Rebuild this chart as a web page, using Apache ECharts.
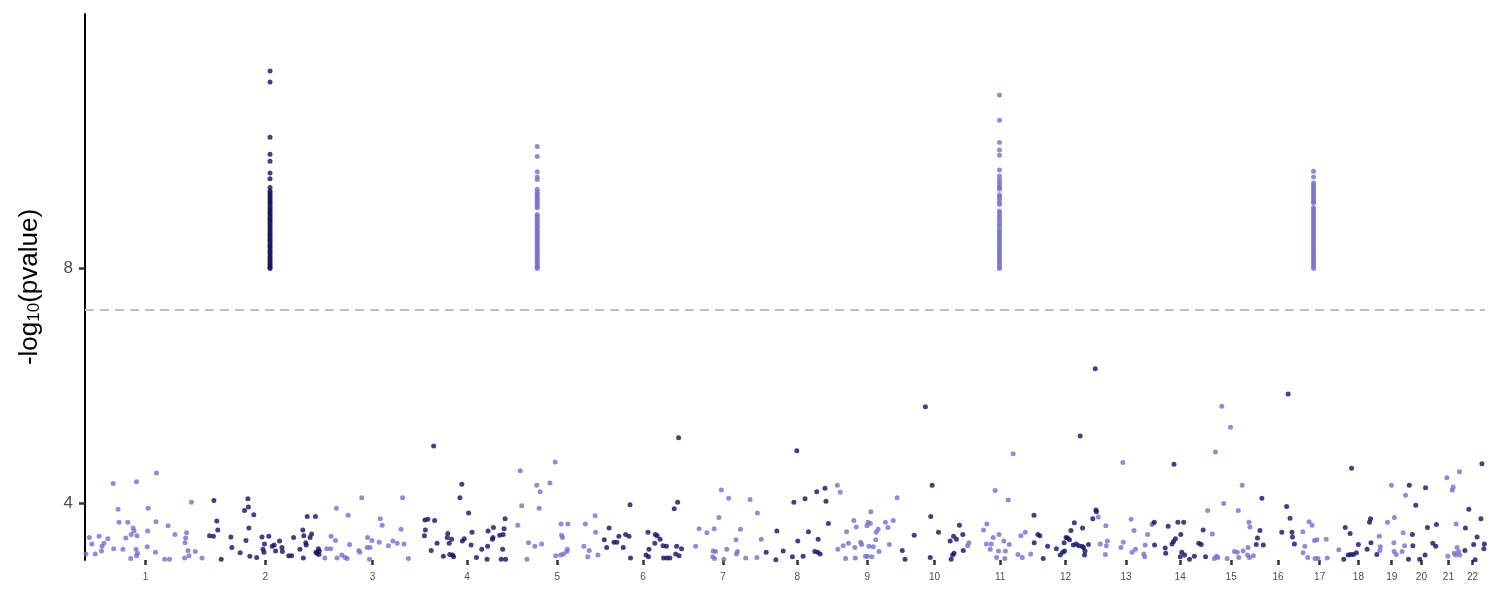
<!DOCTYPE html>
<html><head><meta charset="utf-8">
<script src="https://cdn.jsdelivr.net/npm/echarts@6/dist/echarts.min.js"></script>
<style>html,body{margin:0;padding:0;background:#fff}#c{width:1500px;height:600px}</style>
</head><body><div id="c"></div>
<script>
// chromosome names and lengths (Mb, hg19)
const chromNames = ['1','2','3','4','5','6','7','8','9','10','11','12','13','14','15','16','17','18','19','20','21','22'];
const chromLengths = [249.25,243.2,198.0,191.15,180.9,171.1,159.1,146.4,141.2,135.5,135.0,133.85,115.2,107.35,102.5,90.35,81.2,78.1,59.1,63.0,48.1,51.3];
const yTicks = [4, 8];
const gwThreshold = 7.3;

// [position within chromosome (Mb), -log10(p)]
const chr1 = [[2,3.13],[9,3.41],[14,3.30],[21,3.13],[29,3.43],[34,3.18],[35,3.26],[39,3.31],[47,3.39],[58,4.33],[59,3.22],[68,3.89],[70,3.67],[78,3.21],[84,3.40],[88,3.67],[94,3.05],[95,3.46],[99,3.57],[101,3.52],[106,4.36],[107,3.44],[105,3.21],[106,3.10],[108,3.14],[130,3.91],[129,3.52],[128,3.25],[145,3.16],[147,4.51],[146,3.68],[164,3.04],[171,3.61],[174,3.04],[185,3.46],[205,3.06],[206,3.32],[207,3.40],[209,3.49],[212,3.19],[214,3.10],[219,4.01],[227,3.17],[241,3.06]];
const chr2 = [[7,3.44],[15,3.43],[16,4.04],[22,3.69],[24,3.54],[31,3.04],[51,3.42],[53,3.24],[70,3.15],[79,3.87],[82,3.36],[86,4.07],[87,3.93],[88,3.57],[90,3.09],[98,3.80],[104,3.07],[115,3.42],[117,3.21],[119,3.16],[120,3.30],[129,3.43],[136,3.26],[140,3.28],[143,3.18],[151,3.35],[156,3.24],[157,3.17],[170,3.10],[176,3.10],[180,3.41],[193,3.21],[200,3.06],[201,3.44],[199,3.54],[205,3.32],[206,3.28],[208,3.77],[214,3.41],[217,3.47],[225,3.77],[226,3.16],[228,3.14],[231,3.22],[232,3.12],[233,3.18]];
const chr3 = [[1,3.06],[5,3.22],[13,3.22],[14,3.43],[23,3.36],[25,3.91],[26,3.06],[36,3.11],[43,3.07],[47,3.05],[49,3.79],[52,3.29],[71,3.19],[73,3.16],[77,4.09],[89,3.41],[88,3.24],[94,3.24],[98,3.36],[93,3.04],[113,3.33],[115,3.73],[119,3.62],[132,3.27],[141,3.35],[150,3.31],[158,3.55],[161,4.09],[164,3.30],[173,3.05]];
const chr4 = [[9,3.71],[10,3.54],[8,3.44],[15,3.72],[22,3.19],[27,4.97],[29,3.70],[34,3.31],[47,3.09],[56,3.48],[55,3.41],[59,3.31],[60,3.12],[64,3.38],[66,3.11],[68,3.08],[81,4.09],[85,4.32],[86,3.35],[90,3.39],[99,3.83],[104,3.28],[106,3.50],[115,3.07],[126,3.21],[137,3.04],[138,3.26],[139,3.52],[148,3.38],[149,3.41],[150,3.58],[163,3.45],[166,3.04],[169,3.21],[170,3.46],[172,3.56],[174,3.73],[175,3.04]];
const chr5 = [[9,3.62],[14,4.55],[17,3.95],[28,3.04],[31,3.32],[44,3.26],[48,4.30],[55,4.19],[53,3.91],[58,3.30],[75,4.34],[86,4.70],[98,3.64],[99,3.45],[101,3.41],[87,3.10],[97,3.11],[103,3.13],[110,3.17],[111,3.21],[112,3.64],[145,3.26],[148,3.64],[153,3.08],[156,3.19],[168,3.78],[169,3.50],[174,3.11]];
const chr6 = [[6,3.37],[11,3.24],[16,3.57],[26,3.33],[32,3.33],[36,3.43],[45,3.24],[50,3.46],[57,3.43],[59,3.97],[60,3.06],[92,3.11],[97,3.08],[98,3.21],[96,3.50],[110,3.31],[111,3.46],[115,3.44],[121,3.38],[127,3.27],[128,3.06],[134,3.26],[135,3.06],[141,3.06],[150,3.90],[157,4.01],[159,5.11],[155,3.26],[153,3.13],[160,3.10],[165,3.22]];
const chr7 = [[23,3.26],[30,3.56],[46,3.49],[58,3.08],[59,3.18],[62,3.05],[61,3.56],[64,3.17],[71,3.75],[76,4.22],[81,3.04],[87,3.21],[91,4.08],[106,3.37],[107,3.13],[109,3.17],[115,3.55],[126,3.06],[135,4.06],[149,3.07],[150,3.83],[158,3.38]];
const chr8 = [[9,3.16],[29,3.03],[31,3.52],[44,3.18],[63,3.08],[66,4.01],[72,4.89],[74,3.35],[85,3.09],[89,4.07],[96,3.51],[109,3.17],[113,4.19],[116,3.38],[115,3.16],[120,3.13],[130,4.25],[132,4.03],[137,3.65]];
const chr9 = [[9,4.30],[15,4.18],[10,3.21],[21,3.27],[26,3.05],[28,3.51],[32,3.31],[43,3.70],[45,3.24],[46,3.06],[48,3.59],[57,3.33],[59,3.29],[67,3.09],[70,3.61],[72,3.67],[74,3.26],[78,3.85],[77,3.65],[80,3.08],[83,3.25],[88,3.37],[89,3.50],[93,3.55],[71,3.09],[95,3.17],[108,3.67],[113,3.58],[116,3.29],[124,3.70],[132,4.09]];
const chr10 = [[1.4,3.19],[7,3.04],[26,3.45],[49,5.64],[60,3.77],[63,4.30],[59,3.07],[76,3.50],[100,3.35],[102,3.04],[105,3.11],[107,3.43],[108,3.14],[113,3.38],[119,3.62],[126,3.46],[127,3.19]];
const chr11 = [[0.5,3.27],[3,3.32],[33,3.54],[40,3.64],[39,3.30],[47,3.21],[49,3.30],[53,3.41],[57,4.21],[60,3.07],[64,3.18],[65,3.46],[75,3.35],[77,3.05],[78,3.18],[84,4.05],[86,3.29],[94,4.84],[104,3.12],[110,3.44],[113,3.07],[119,3.50],[130,3.13]];
const chr12 = [[2,3.79],[2.5,3.32],[10,3.46],[14,3.44],[21,3.05],[30,3.26],[48,3.22],[56,3.11],[61,3.16],[65,3.18],[64,3.32],[68,3.41],[71,3.40],[75,3.37],[78,3.53],[83,3.28],[85,3.66],[89,3.30],[94,3.27],[97,5.14],[101,3.26],[102,3.57],[104,3.24],[106,3.11],[107,3.18],[114,3.29],[123,3.73],[128,6.29],[129.5,3.88],[130.5,3.85]];
const chr13 = [[0.5,3.76],[4.5,3.30],[16,3.61],[17,3.27],[15,3.12],[19,3.35],[47,3.24],[51,4.69],[52,3.33],[68,3.72],[70,3.16],[74,3.53],[77,3.21],[94,3.13],[96,3.08],[97,3.28],[102,3.46],[111,3.63],[113,3.65]];
const chr14 = [[0.5,3.67],[1,3.28],[23,3.23],[24,3.14],[29,3.60],[37,3.30],[40,3.34],[41,4.66],[44,3.39],[49,3.67],[55,3.46],[57,3.16],[54,3.08],[61,3.67],[63,3.11],[73,3.04],[83,3.09],[92,3.31],[97,3.29],[101,3.54],[106,3.08]];
const chr15 = [[3,3.87],[12.5,3.47],[17,3.05],[19,4.87],[21,3.09],[24,3.07],[32,5.65],[36,3.99],[43,3.05],[50,5.29],[58,3.17],[64,3.16],[66,3.87],[67,3.07],[74,4.30],[76,3.18],[85,3.11],[86,3.24],[88,3.67],[90,3.59],[89,3.07],[97,3.10]];
const chr16 = [[0.5,3.29],[3,3.40],[8,3.53],[12,4.08],[15,3.28],[53,3.50],[63,3.94],[66,5.86],[70,3.74],[74,3.50],[75,3.42],[79,3.30]];
const chr17 = [[6,3.51],[6.5,3.15],[10,3.26],[16,3.07],[19,3.68],[25,3.62],[30,3.36],[35,3.37],[31,3.05],[37,3.05],[54,3.38],[56,3.06],[80,3.20]];
const chr18 = [[9,3.04],[12,3.58],[18,3.11],[22,3.48],[25,4.59],[23,3.12],[29,3.12],[35,3.15],[39,3.29],[57,3.21],[62,3.67],[64,3.73],[65,3.32],[77,3.12]];
const chr19 = [[4,3.43],[6,3.25],[5,3.19],[21,3.67],[29,4.30],[34,3.32],[35,3.75],[34.5,3.17],[39,3.12],[51,3.17],[53,3.49],[56,3.27],[58,4.13]];
const chr20 = [[6.6,4.30],[5,3.04],[13,3.46],[14,3.27],[20,3.96],[28,3.04],[39,3.11],[40,4.26],[44,3.58],[55,3.31],[61,3.26],[62.5,3.63]];
const chr21 = [[21,4.43],[23,3.09],[32,4.22],[34,4.27],[36,3.14],[39,3.11],[40,3.64],[42,3.24],[45,3.17],[47,4.53],[47.5,3.11]];
const chr22 = [[10,3.19],[11,3.57],[18,3.89],[28,3.29],[31,3.03],[35,3.42],[43,3.73],[45,4.67],[49,3.22],[50,3.30]];

// genome-wide significant peaks: position (Mb) and values
const peakChr2Pos = 131.5;
const peakChr2Vals = [11.37,11.18,10.24,9.95,9.83,9.63,9.53,9.38,9.32,9.29,9.26,9.22,9.19,9.15,9.12,9.09,9.05,9.02,8.98,8.95,8.92,8.88,8.85,8.82,8.78,8.75,8.71,8.68,8.65,8.61,8.58,8.55,8.51,8.48,8.45,8.41,8.38,8.35,8.31,8.28,8.25,8.21,8.18,8.15,8.11,8.08,8.05,8.02,8.00];
const peakChr5Pos = 49;
const peakChr5Vals = [10.08,9.91,9.65,9.56,9.52,9.35,9.30,9.27,9.24,9.20,9.17,9.13,9.10,9.06,9.03,8.92,8.89,8.85,8.82,8.79,8.75,8.72,8.69,8.65,8.62,8.59,8.55,8.52,8.49,8.45,8.42,8.39,8.35,8.32,8.29,8.25,8.22,8.19,8.15,8.12,8.09,8.05,8.02,8.00];
const peakChr11Pos = 66;
const peakChr11Vals = [10.96,10.53,10.15,10.02,9.93,9.68,9.58,9.52,9.47,9.42,9.38,9.35,9.26,9.22,9.18,9.13,9.09,8.98,8.94,8.89,8.85,8.81,8.76,8.72,8.67,8.63,8.59,8.55,8.51,8.47,8.43,8.39,8.35,8.31,8.27,8.23,8.19,8.15,8.11,8.07,8.03,8.00];
const peakChr17Pos = 28;
const peakChr17Vals = [9.66,9.56,9.46,9.42,9.38,9.34,9.30,9.26,9.22,9.18,9.14,9.12,9.04,9.00,8.96,8.92,8.88,8.84,8.80,8.76,8.72,8.68,8.64,8.60,8.56,8.52,8.48,8.44,8.40,8.36,8.32,8.28,8.24,8.20,8.16,8.12,8.08,8.04,8.00];

const colorOdd = '#7272cc';
const colorEven = '#111160';

// build
const chromData = [chr1,chr2,chr3,chr4,chr5,chr6,chr7,chr8,chr9,chr10,chr11,chr12,chr13,chr14,chr15,chr16,chr17,chr18,chr19,chr20,chr21,chr22].map(a => a.slice());
peakChr2Vals.forEach(v => chromData[1].push([peakChr2Pos, v]));
peakChr5Vals.forEach(v => chromData[4].push([peakChr5Pos, v]));
peakChr11Vals.forEach(v => chromData[10].push([peakChr11Pos, v]));
peakChr17Vals.forEach(v => chromData[16].push([peakChr17Pos, v]));

const offsets = [];
let acc = 0;
chromLengths.forEach(l => { offsets.push(acc); acc += l; });
const total = acc;
const centers = chromLengths.map((l, i) => offsets[i] + l / 2);

const oddPts = [], evenPts = [];
chromData.forEach((arr, i) => {
  const target = (i % 2 === 0) ? oddPts : evenPts;
  arr.forEach(([p, v]) => target.push([offsets[i] + p, v]));
});

const chart = echarts.init(document.getElementById('c'));
chart.setOption({
  animation: false,
  backgroundColor: '#fff',
  grid: { left: 85, right: 15, top: 14, bottom: 40 },
  xAxis: {
    type: 'value', min: 0, max: total,
    axisLine: { show: false },
    splitLine: { show: false },
    axisTick: { show: true, customValues: centers, length: 5, lineStyle: { color: '#333', width: 2.5 } },
    axisLabel: {
      customValues: centers, margin: 12, fontSize: 10, color: '#4d4d4d', fontFamily: 'Liberation Sans',
      formatter: v => { const i = centers.findIndex(c => Math.abs(c - v) < 0.01); return i >= 0 ? chromNames[i] : ''; }
    }
  },
  yAxis: {
    type: 'value', min: 3.026, max: 12.342,
    name: '{a|-log}{b|10}{a|(pvalue)}',
    nameLocation: 'middle', nameGap: 42,
    nameTextStyle: {
      rich: {
        a: { fontSize: 26, color: '#000', fontFamily: 'Liberation Sans', lineHeight: 32, verticalAlign: 'bottom' },
        b: { fontSize: 17, color: '#000', fontFamily: 'Liberation Sans', lineHeight: 25, verticalAlign: 'bottom' }
      }
    },
    axisLine: { show: true, lineStyle: { color: '#000', width: 2 } },
    splitLine: { show: false },
    axisTick: { show: true, customValues: yTicks, length: 6, lineStyle: { color: '#333', width: 2.5 } },
    axisLabel: { customValues: yTicks, margin: 12, fontSize: 17, color: '#4d4d4d', fontFamily: 'Liberation Sans' }
  },
  series: [
    {
      type: 'scatter', data: oddPts, symbolSize: 5, itemStyle: { color: colorOdd }, silent: true,
      markLine: {
        silent: true, symbol: 'none', label: { show: false },
        lineStyle: { color: '#bdbdbd', type: [9, 6], width: 2 },
        data: [{ yAxis: gwThreshold }]
      }
    },
    { type: 'scatter', data: evenPts, symbolSize: 5, itemStyle: { color: colorEven }, silent: true }
  ]
});
</script></body></html>
